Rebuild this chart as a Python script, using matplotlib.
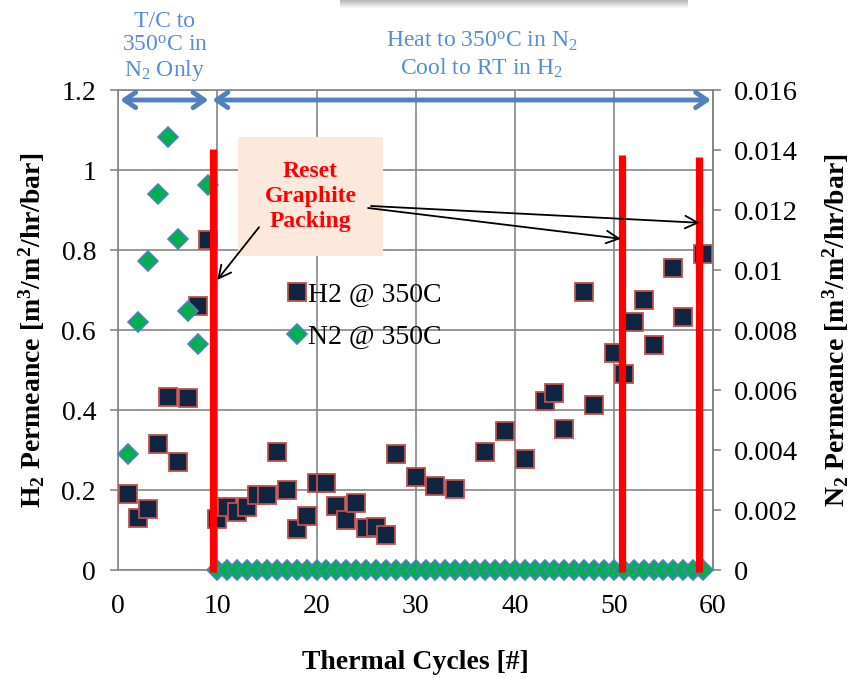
import matplotlib
matplotlib.use("Agg")
import matplotlib.pyplot as plt
from matplotlib.patches import Rectangle
from matplotlib.lines import Line2D

plt.rcParams['font.family'] = ['Liberation Serif', 'DejaVu Serif']
plt.rcParams['mathtext.fontset'] = 'custom'
plt.rcParams['mathtext.rm'] = 'Liberation Serif'
plt.rcParams['mathtext.bf'] = 'Liberation Serif:bold'
plt.rcParams['mathtext.default'] = 'regular'

# H2 permeance (left axis)
h2_cycles = [1, 2, 3, 4, 5, 6, 7, 8, 9, 10, 11, 12, 13, 14, 15, 16, 17, 18, 19,
             20, 21, 22, 23, 24, 25, 26, 27, 28, 30, 32, 34, 37, 39, 41, 43, 44,
             45, 47, 48, 50, 51, 52, 53, 54, 56, 57, 59]
h2_perm = [0.19, 0.13, 0.152, 0.315, 0.432, 0.27, 0.429, 0.66, 0.825,
           0.127, 0.157, 0.144, 0.157, 0.188, 0.188, 0.296, 0.2, 0.103, 0.135,
           0.218, 0.217, 0.16, 0.125, 0.167, 0.104, 0.107, 0.088, 0.289,
           0.233, 0.21, 0.203, 0.295, 0.348, 0.278, 0.423, 0.442, 0.352,
           0.696, 0.413, 0.542, 0.49, 0.62, 0.675, 0.563, 0.754, 0.633, 0.789]

# N2 permeance (right axis): T/C in N2 only for cycles 1-9, then zero
n2_cycles = list(range(1, 60))
n2_perm = [0.00387, 0.00826, 0.0103, 0.01253, 0.01444, 0.01102, 0.00863,
           0.00752, 0.01283] + [0.0] * 50

# graphite packing resets (cycle, top of marker line on H2 scale)
reset_cycles = [9.55, 50.8, 58.6]
reset_tops = [1.052, 1.037, 1.033]

xticks = [0, 10, 20, 30, 40, 50, 60]
yticks_left = [0, 0.2, 0.4, 0.6, 0.8, 1, 1.2]
yticks_right = [0, 0.002, 0.004, 0.006, 0.008, 0.01, 0.012, 0.014, 0.016]

grid_col = '#868686'
blue = '#4F81BD'
text_blue = '#558ED5'

fig = plt.figure(figsize=(8.59, 6.78), dpi=100)
ax = fig.add_axes([118.3 / 859, 1 - 570 / 678, 594.7 / 859, 480 / 678])
ax2 = ax.twinx()

sq_style = dict(linestyle='none', marker='s', markersize=12.5,
                markerfacecolor='#10253F', markeredgecolor='#C0504D',
                markeredgewidth=1.3)
dm_style = dict(linestyle='none', marker='D', markersize=10,
                markerfacecolor='#00B050', markeredgecolor=blue,
                markeredgewidth=1.2)

ax.plot(h2_cycles, h2_perm, zorder=3, **sq_style)
ax2.plot(n2_cycles, n2_perm, zorder=3, clip_on=False, **dm_style)

ax.set_xlim(0, 60)
ax.set_ylim(0, 1.2)
ax2.set_ylim(0, 0.016)
ax.set_xticks(xticks)
ax.set_yticks(yticks_left)
ax.set_yticklabels(['0', '0.2', '0.4', '0.6', '0.8', '1', '1.2'])
ax2.set_yticks(yticks_right)
ax2.set_yticklabels(['0', '0.002', '0.004', '0.006', '0.008', '0.01', '0.012',
                     '0.014', '0.016'])

ax.grid(True, color=grid_col, linewidth=1.2)
ax.set_axisbelow(True)
for sp in ax.spines.values():
    sp.set_color(grid_col)
    sp.set_linewidth(1.2)
for name, sp in ax2.spines.items():
    sp.set_visible(name == 'right')
    sp.set_color(grid_col)
    sp.set_linewidth(1.2)

ax.tick_params(axis='x', length=0, pad=17, labelsize=20)
ax.tick_params(axis='y', length=6, width=1.2, color=grid_col, pad=10, labelsize=20)
ax2.tick_params(axis='y', length=6, width=1.2, color=grid_col, pad=9, labelsize=20.5)

ax.set_xlabel('Thermal Cycles [#]', fontsize=20, fontweight='bold')
ax.xaxis.label.set_va('center')
ax.xaxis.set_label_coords(0.5, -0.192)
ax.set_ylabel(r'H$_2$ Permeance [m$^3$/m$^2$/hr/bar]', fontsize=20, fontweight='bold')
ax.yaxis.label.set_va('center')
ax.yaxis.set_label_coords(-0.145, 0.5)
ax2.set_ylabel(r'N$_2$ Permeance [m$^3$/m$^2$/hr/bar]', fontsize=20, fontweight='bold')
ax2.yaxis.label.set_va('center')
ax2.yaxis.set_label_coords(1.206, 0.5)

# red reset lines
ax2.vlines(reset_cycles, -0.006, reset_tops, colors='#FF0000', linewidth=5.2,
           transform=ax.transData, zorder=4, clip_on=False)

# annotation box
ax2.add_patch(Rectangle((12.07, 0.785), 14.63, 0.297, facecolor='#FCE9DC',
                        edgecolor='none', transform=ax.transData, zorder=5))
ax2.text(19.4, 0.934, 'Reset\nGraphite\nPacking', color='#FF0000', fontsize=17,
         fontweight='bold', ha='center', va='center', linespacing=1.25,
         transform=ax.transData, zorder=6)

arrow_kw = dict(arrowstyle='->,head_length=0.9,head_width=0.45', color='black',
                lw=1.3, shrinkA=0, shrinkB=0)
ax2.annotate('', xy=(9.98, 0.725), xytext=(14.2, 0.857), xycoords=ax.transData,
             textcoords=ax.transData, arrowprops=arrow_kw, zorder=6)
ax2.annotate('', xy=(50.7, 0.828), xytext=(25.2, 0.905), xycoords=ax.transData,
             textcoords=ax.transData, arrowprops=arrow_kw, zorder=6)
ax2.annotate('', xy=(58.65, 0.868), xytext=(25.5, 0.91), xycoords=ax.transData,
             textcoords=ax.transData, arrowprops=arrow_kw, zorder=6)

# blue range arrows and labels above the plot
blue_kw = dict(arrowstyle='<->,head_length=0.8,head_width=0.55', color=blue,
               lw=3.5, shrinkA=0, shrinkB=0)
ax2.annotate('', xy=(9.1, 1.175), xytext=(0.2, 1.175), xycoords=ax.transData,
             textcoords=ax.transData, arrowprops=blue_kw, zorder=6)
ax2.annotate('', xy=(59.8, 1.175), xytext=(9.5, 1.175), xycoords=ax.transData,
             textcoords=ax.transData, arrowprops=blue_kw, zorder=6)
ax2.text(4.7, 1.307, 'T/C to\n350$^{o}$C in\nN$_2$ Only', color=text_blue,
         fontsize=17, ha='center', va='center', linespacing=1.15,
         transform=ax.transData)
ax2.text(36.7, 1.287, 'Heat to 350$^{o}$C in N$_2$\nCool to RT in H$_2$',
         color=text_blue, fontsize=17, ha='center', va='center', linespacing=1.2,
         transform=ax.transData)

# legend
handles = [Line2D([], [], **sq_style), Line2D([], [], **dm_style)]
ax2.legend(handles, ['H2 @ 350C', 'N2 @ 350C'], loc='upper left',
           bbox_to_anchor=(0.287, 0.6), frameon=False, fontsize=20,
           borderpad=0, borderaxespad=0, handlelength=0.6, handletextpad=0.1,
           labelspacing=0.6)

# shadowed box cut off at the top edge
for i in range(8):
    fig.add_artist(Rectangle((340 / 859, 1 - (i + 1) / 678), 348 / 859, 1 / 678,
                             transform=fig.transFigure, facecolor='#7f7f7f',
                             edgecolor='none', alpha=0.55 * (1 - i / 8)))

fig.savefig('out.png', dpi=100)
